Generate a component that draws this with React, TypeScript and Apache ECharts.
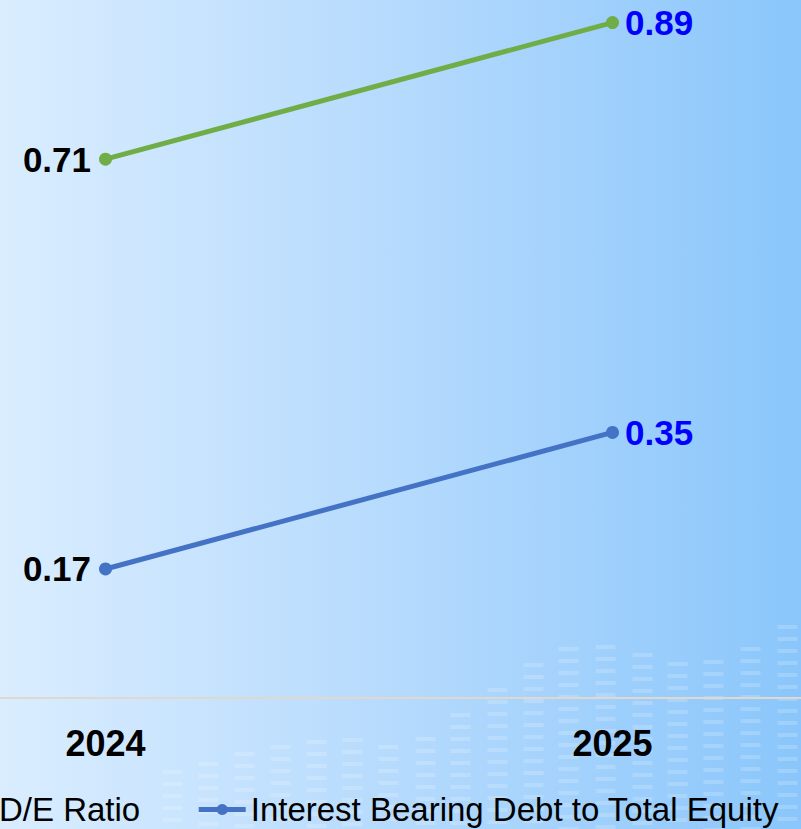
import React, { useEffect, useRef } from "react";
import * as echarts from "echarts";

const categories = ["2024", "2025"];
const deRatio = [0.71, 0.89];
const ibdToEquity = [0.17, 0.35];
const seriesNames = ["D/E Ratio", "Interest Bearing Debt to Total Equity"];
const seriesColors = ["#70ad47", "#4472c4"];

// decorative background columns (faint "equalizer" pattern), page coordinates
const decoColumnX = [172, 208, 244, 280, 316, 352, 388, 425, 460, 497, 533, 568, 605, 642, 677, 713, 750, 787];
const decoColumnTop = [770, 762, 752, 745, 740, 738, 745, 737, 713, 688, 663, 647, 645, 653, 662, 660, 647, 625];

const OFFSET = 148.5; // chart canvas extends beyond the visible page on the left (cropped chart)

export default function App() {
  const ref = useRef<HTMLDivElement>(null);

  useEffect(() => {
    document.body.style.margin = "0";
    const chart = echarts.init(ref.current!, null, { renderer: "svg" });
    const H = 829;
    const decoChildren: any[] = [];
    decoColumnX.forEach((x, i) => {
      for (let y = decoColumnTop[i]; y < H; y += 12) {
        decoChildren.push({
          type: "rect",
          silent: true,
          shape: { x: x - 10, y, width: 20, height: 4 },
          style: { fill: "rgba(255,255,255,0.18)" },
        });
      }
    });

    const font = "'Liberation Sans', Arial, sans-serif";
    const makeData = (vals: number[]) =>
      vals.map((v, i) => ({
        value: v,
        label: {
          show: true,
          position: i === 0 ? "left" : "right",
          distance: i === 0 ? 8 : 6,
          color: i === 0 ? "#000000" : "#0000ff",
          fontSize: 35,
          fontWeight: "bold",
          fontFamily: font,
          formatter: (p: any) => Number(p.value).toFixed(2),
        },
      }));

    chart.setOption({
      animation: false,
      backgroundColor: "transparent",
      graphic: [{ type: "group", x: OFFSET, y: 0, silent: true, z: 0, children: decoChildren }],
      grid: { left: 0, right: 0, top: 15, bottom: 131, containLabel: false },
      legend: {
        data: seriesNames,
        left: OFFSET - 56,
        top: 793,
        padding: 0,
        itemWidth: 47,
        itemHeight: 14,
        itemGap: 56,
        lineStyle: { width: 5 },
        textStyle: { fontSize: 33, color: "#000000", fontFamily: font },
      },
      xAxis: {
        type: "category",
        data: categories,
        boundaryGap: true,
        axisLine: { show: true, lineStyle: { color: "#e2d7cc", width: 2 } },
        axisTick: { show: false },
        axisLabel: { margin: 27, fontSize: 36, fontWeight: "bold", color: "#000000", fontFamily: font },
        splitLine: { show: false },
      },
      yAxis: { type: "value", min: 0, max: 0.9, show: false, splitLine: { show: false } },
      series: [
        {
          name: seriesNames[0],
          type: "line",
          data: makeData(deRatio),
          color: seriesColors[0],
          lineStyle: { width: 5, color: seriesColors[0] },
          itemStyle: { color: seriesColors[0] },
          symbol: "circle",
          symbolSize: 13,
          z: 3,
        },
        {
          name: seriesNames[1],
          type: "line",
          data: makeData(ibdToEquity),
          color: seriesColors[1],
          lineStyle: { width: 5, color: seriesColors[1] },
          itemStyle: { color: seriesColors[1] },
          symbol: "circle",
          symbolSize: 13,
          z: 3,
        },
      ],
    });
    return () => chart.dispose();
  }, []);

  return (
    <div
      style={{
        position: "relative",
        width: 801,
        height: 829,
        overflow: "hidden",
        background: "linear-gradient(to right, #daedff 0%, #b5dafd 50%, #8ac6fb 100%)",
      }}
    >
      <div ref={ref} style={{ position: "absolute", left: -OFFSET, top: 0, width: 1014, height: 829 }} />
    </div>
  );
}
